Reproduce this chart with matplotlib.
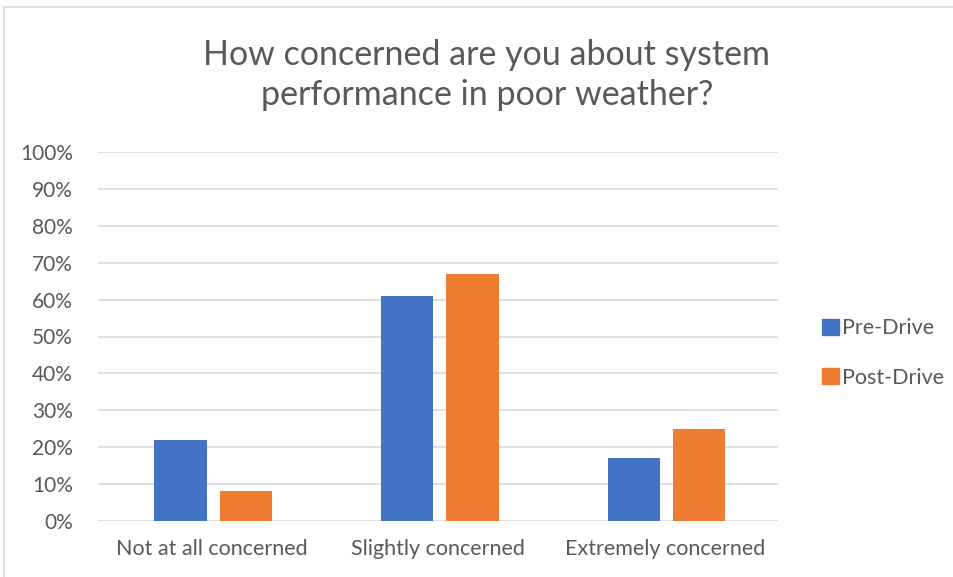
import matplotlib.pyplot as plt
import matplotlib.patches as mpatches
import numpy as np

categories = ["Not at all concerned", "Slightly concerned", "Extremely concerned"]
pre_drive = [22, 61, 17]
post_drive = [8, 67, 25]
series_names = ["Pre-Drive", "Post-Drive"]
yticks = [0, 10, 20, 30, 40, 50, 60, 70, 80, 90, 100]

blue = "#4472C4"
orange = "#ED7D31"
text_col = "#595959"
grid_col = "#D9D9D9"

plt.rcParams['font.family'] = ['Lato', 'DejaVu Sans']

fig = plt.figure(figsize=(9.54, 5.77), dpi=100)
ax = fig.add_axes([98 / 954, 1 - 521 / 577, 680 / 954, 369 / 577])

# outer chart frame
fig.patches.append(mpatches.Rectangle((4 / 954, -0.02), 1.0, 1 - 7 / 577 + 0.02,
                                      transform=fig.transFigure, fill=False,
                                      edgecolor=grid_col, linewidth=1.2))

x = np.arange(len(categories))
w = 0.23
gap = 0.058
ax.bar(x - (w + gap) / 2 + 0.008, pre_drive, w, color=blue, label=series_names[0], zorder=3)
ax.bar(x + (w + gap) / 2 + 0.008, post_drive, w, color=orange, label=series_names[1], zorder=3)

ax.set_xlim(-0.5, 2.5)
ax.set_ylim(0, 100)
ax.set_yticks(yticks)
ax.set_yticklabels([f"{v}%" for v in yticks])
ax.set_xticks(x)
ax.set_xticklabels(categories)
ax.tick_params(axis='both', length=0, labelsize=15.5, colors=text_col)
ax.tick_params(axis='x', pad=13)
ax.tick_params(axis='y', labelsize=15, pad=18)
ax.grid(axis='y', color=grid_col, linewidth=1.2, zorder=0)
for s in ax.spines.values():
    s.set_visible(False)

fig.text(487 / 954, 1 - 75 / 577, "How concerned are you about system\nperformance in poor weather?",
         ha='center', va='center', fontsize=24.5, color=text_col, linespacing=1.3)

handles = [mpatches.Patch(color=blue), mpatches.Patch(color=orange)]
fig.legend(handles, series_names, loc='center left', bbox_to_anchor=(803 / 954, 1 - 353 / 577),
           frameon=False, fontsize=15.5, labelcolor=text_col, handlelength=0.75, handleheight=0.75,
           handletextpad=0.15, labelspacing=1.35)

fig.savefig("out.png", dpi=100)
